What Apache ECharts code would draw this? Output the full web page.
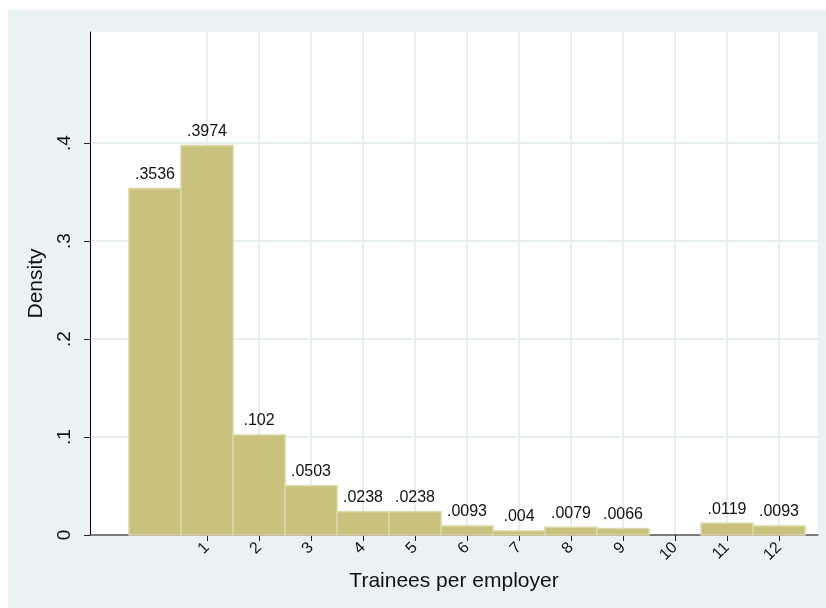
<!DOCTYPE html>
<html>
<head>
<meta charset="utf-8">
<script src="https://cdn.jsdelivr.net/npm/echarts@6/dist/echarts.min.js"></script>
<style>
html,body{margin:0;padding:0;background:#fff;}
#chart{width:826px;height:608px;}
</style>
</head>
<body>
<div id="chart"></div>
<script>
// Data
var binCenters = [0, 1, 2, 3, 4, 5, 6, 7, 8, 9, 10, 11, 12];
var densities = [0.3536, 0.3974, 0.102, 0.0503, 0.0238, 0.0238, 0.0093, 0.004, 0.0079, 0.0066, 0, 0.0119, 0.0093];
var xTickValues = [1, 2, 3, 4, 5, 6, 7, 8, 9, 10, 11, 12];
var yTickValues = [0, 0.1, 0.2, 0.3, 0.4];
var xTitle = 'Trainees per employer';
var yTitle = 'Density';

var FONT = '"Liberation Sans", Arial, Helvetica, sans-serif';
function fmt(v) { return v === 0 ? '0' : String(v).replace(/^0\./, '.'); }

var seriesData = binCenters.map(function (c, i) { return [c, densities[i]]; });

var chart = echarts.init(document.getElementById('chart'), null, {renderer: 'canvas'});
chart.setOption({
  animation: false,
  backgroundColor: '#ffffff',
  graphic: [{
    type: 'rect', z: -10, left: 8, top: 10,
    shape: {width: 818, height: 598},
    style: {fill: '#EAF2F3'}
  }],
  grid: {
    left: 90, right: 8, top: 32, bottom: 73,
    show: true, backgroundColor: '#ffffff', borderWidth: 0
  },
  xAxis: {
    type: 'value', min: -1.25, max: 12.75,
    name: xTitle, nameLocation: 'middle', nameGap: 33,
    nameTextStyle: {fontFamily: FONT, fontSize: 21, color: '#111'},
    axisLine: {show: true, onZero: false, lineStyle: {color: '#555', width: 1.5}},
    axisTick: {show: true, length: 6, customValues: xTickValues, lineStyle: {color: '#222', width: 1}},
    axisLabel: {customValues: xTickValues, rotate: 45, margin: 10, fontFamily: FONT, fontSize: 16, color: '#111',
      formatter: function (v) { return fmt(v); }},
    splitLine: {show: true, lineStyle: {color: '#E6EEF0', width: 2}}
  },
  yAxis: {
    type: 'value', min: 0, max: 0.5133,
    name: yTitle, nameLocation: 'middle', nameGap: 40, nameRotate: 90,
    nameTextStyle: {fontFamily: FONT, fontSize: 21, color: '#111'},
    axisLine: {show: true, onZero: false, lineStyle: {color: '#000', width: 1}},
    axisTick: {show: true, length: 6, customValues: yTickValues, lineStyle: {color: '#222', width: 1}},
    axisLabel: {customValues: yTickValues, rotate: 90, margin: 16, fontFamily: FONT, fontSize: 19, color: '#111',
      formatter: function (v) { return fmt(v); }},
    splitLine: {show: true, lineStyle: {color: '#E6EEF0', width: 2}}
  },
  series: [{
    type: 'custom',
    data: seriesData,
    clip: false,
    renderItem: function (params, api) {
      var x = api.value(0), y = api.value(1);
      if (!y) return null;
      var p0 = api.coord([x - 0.5, y]);
      var p1 = api.coord([x + 0.5, 0]);
      return {
        type: 'group',
        children: [{
          type: 'rect',
          shape: {x: p0[0], y: p0[1], width: p1[0] - p0[0], height: p1[1] - p0[1]},
          style: {fill: '#C9C27F', stroke: '#DCD7A8', lineWidth: 1.5}
        }, {
          type: 'text',
          x: (p0[0] + p1[0]) / 2, y: p0[1] - 6,
          style: {text: fmt(y), fill: '#111', fontSize: 16, fontFamily: FONT, align: 'center', verticalAlign: 'bottom'}
        }]
      };
    }
  }]
});
</script>
</body>
</html>
